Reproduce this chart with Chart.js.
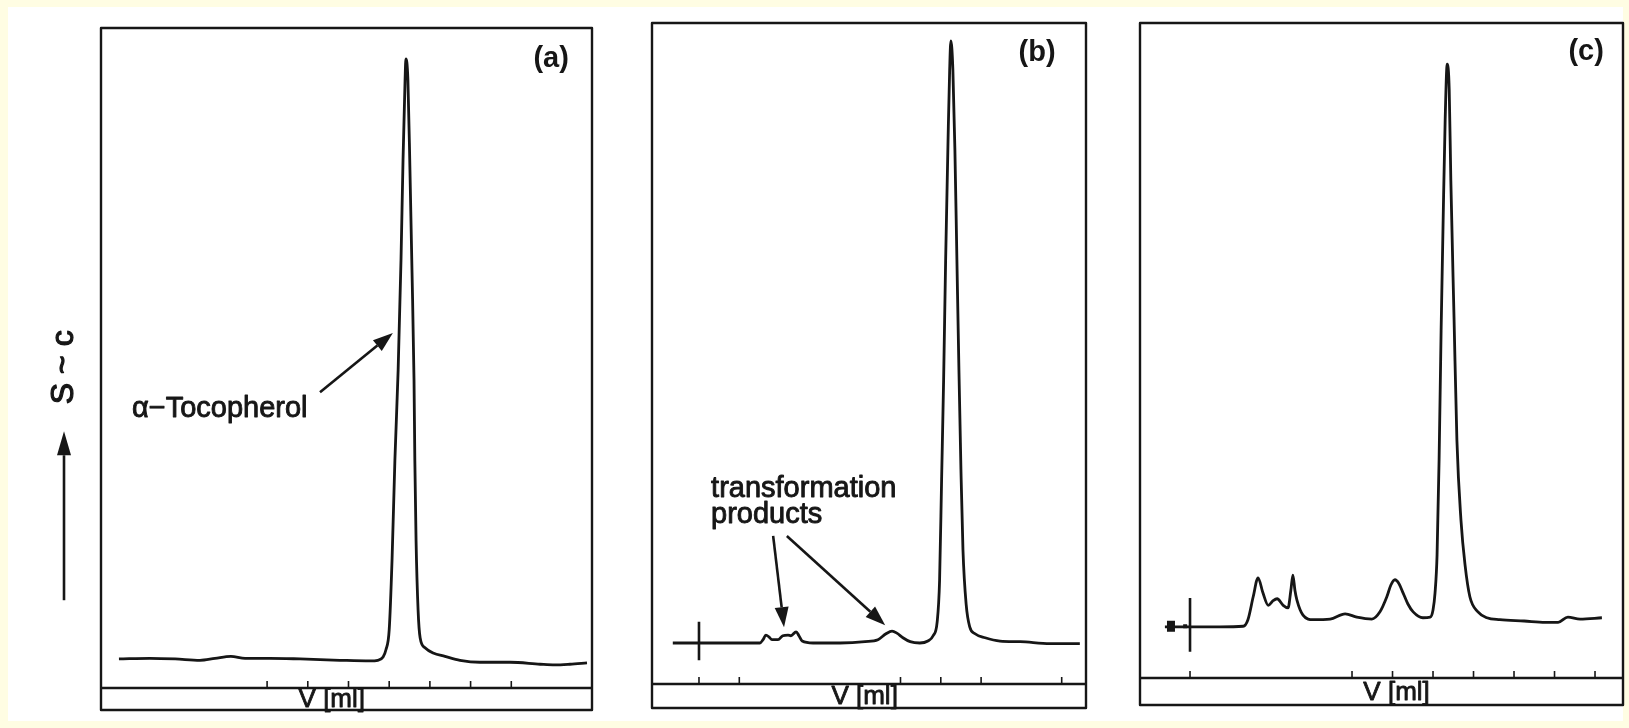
<!DOCTYPE html>
<html>
<head>
<meta charset="utf-8">
<script src="https://cdn.jsdelivr.net/npm/chart.js@4.4.1/dist/chart.umd.min.js"></script>
<style>
  html, body { margin: 0; padding: 0; }
  body { width: 1629px; height: 728px; background: #fffde3; position: relative; overflow: hidden; }
  #paper { position: absolute; left: 8px; top: 7px; right: 6px; bottom: 7px; background: #fff; }
  canvas { position: absolute; top: 0; }
</style>
</head>
<body>
<div id="paper"></div>
<canvas id="chartA" width="620" height="728" style="left:0px"></canvas>
<canvas id="chartB" width="490" height="728" style="left:620px"></canvas>
<canvas id="chartC" width="519" height="728" style="left:1110px"></canvas>
<script>
// Chromatogram (a): pure alpha-tocopherol
const volA = [-0.64, 0.12, 0.74, 1.35, 1.72, 2.11, 2.46, 3.07, 3.81, 4.79,
  5.53, 5.72, 5.85, 5.92, 6.0, 6.07, 6.14, 6.22, 6.29, 6.34,
  6.39, 6.41, 6.46, 6.51, 6.56, 6.61, 6.63, 6.66, 6.71, 6.76,
  6.88, 7.08, 7.37, 7.74, 8.23, 8.97, 9.71, 10.07, 10.44, 10.86];
const sigA = [4.4, 4.5, 4.4, 4.2, 4.5, 4.8, 4.5, 4.5, 4.4, 4.2,
  4.1, 4.2, 4.7, 5.8, 8.8, 19.4, 34.5, 48.2, 64.8, 80.0,
  92.1, 95.3, 92.1, 78.5, 63.3, 46.7, 34.5, 22.4, 11.8, 7.6,
  6.1, 5.3, 4.8, 4.2, 3.9, 3.9, 3.6, 3.5, 3.6, 3.8];
const ticksA = [3, 4, 5, 6, 7, 8, 9];

// Chromatogram (b): small transformation products
const volB = [-0.65, 0, 0.77, 1.51, 1.59, 1.66, 1.74, 1.81, 1.96, 2.08,
  2.21, 2.28, 2.41, 2.48, 2.56, 2.83, 3.50, 4.12, 4.44, 4.64,
  4.79, 4.91, 5.06, 5.24, 5.48, 5.68, 5.81, 5.91, 5.97, 6.02,
  6.07, 6.12, 6.18, 6.22, 6.25, 6.30, 6.35, 6.40, 6.45, 6.50,
  6.55, 6.63, 6.72, 6.85, 7.10, 7.47, 7.97, 8.71, 9.45];
const sigB = [6.2, 6.2, 6.2, 6.2, 6.7, 7.4, 7.1, 6.7, 6.7, 7.3,
  7.4, 7.3, 7.9, 7.3, 6.5, 6.2, 6.2, 6.4, 6.7, 7.6,
  8.0, 7.7, 7.0, 6.4, 6.2, 6.5, 7.3, 9.4, 15.7, 30.9,
  46.0, 64.1, 82.3, 92.9, 97.3, 92.9, 80.8, 64.1, 47.5, 32.4,
  20.3, 12.0, 8.6, 7.6, 7.0, 6.5, 6.4, 6.1, 6.1];
const ticksB = [0, 1, 5, 6, 7, 9];
const injectB = [9.4, 3.6];

// Chromatogram (c): larger product peaks
const volC = [-0.62, 0, 0.74, 1.31, 1.43, 1.56, 1.68, 1.80, 1.93, 2.05,
  2.15, 2.30, 2.42, 2.49, 2.54, 2.59, 2.64, 2.79, 3.04, 3.46,
  3.83, 4.12, 4.49, 4.69, 4.86, 4.96, 5.06, 5.16, 5.26, 5.38,
  5.51, 5.75, 5.93, 6.00, 6.05, 6.10, 6.15, 6.20, 6.25, 6.30,
  6.35, 6.40, 6.44, 6.52, 6.59, 6.69, 6.79, 6.91, 7.11, 7.33,
  7.65, 8.25, 8.77, 9.09, 9.33, 9.63, 10.17];
const sigC = [7.8, 7.8, 7.8, 7.9, 8.9, 12.4, 15.3, 13.0, 11.1, 11.8,
  12.1, 11.1, 10.7, 13.4, 15.7, 13.4, 11.9, 9.6, 8.9, 9.0,
  9.8, 9.3, 9.0, 10.1, 12.4, 14.2, 15.0, 14.4, 13.0, 11.3,
  10.1, 9.2, 9.3, 10.4, 13.0, 18.8, 33.3, 53.1, 69.9, 85.2,
  93.7, 89.8, 76.0, 54.7, 36.3, 24.1, 17.3, 12.4, 10.1, 9.2,
  8.9, 8.7, 8.5, 8.5, 9.3, 9.0, 9.2];
const ticksC = [0, 4, 5, 6, 7, 8, 9, 10];
const injectC = [12.2, 4.0];

const ink = "#161616";
const fontFamily = '"Liberation Sans", Arial, Helvetica, sans-serif';

function toPoints(xs, ys) {
  return xs.map((x, i) => ({ x: x, y: ys[i] }));
}

function drawArrow(ctx, x1, y1, x2, y2, len, half) {
  const ang = Math.atan2(y2 - y1, x2 - x1);
  const bx = x2 - len * Math.cos(ang), by = y2 - len * Math.sin(ang);
  ctx.beginPath();
  ctx.moveTo(x1, y1);
  ctx.lineTo(bx, by);
  ctx.lineWidth = 2.6;
  ctx.stroke();
  ctx.beginPath();
  ctx.moveTo(x2, y2);
  ctx.lineTo(bx + half * Math.sin(ang), by - half * Math.cos(ang));
  ctx.lineTo(bx - half * Math.sin(ang), by + half * Math.cos(ang));
  ctx.closePath();
  ctx.fill();
}

// scanned-looking text: fill plus a thin outline
function heavyText(ctx, s, x, y, w) {
  ctx.lineWidth = w;
  ctx.strokeText(s, x, y);
  ctx.fillText(s, x, y);
}

// frame, axis strip, ticks and labels of one panel
const panelFrame = {
  id: "panelFrame",
  afterDraw(chart, args, opts) {
    const { ctx, chartArea: ca } = chart;
    const xs = chart.scales.x, ys = chart.scales.y;
    const px = v => xs.getPixelForValue(v);
    const py = v => ys.getPixelForValue(v);
    ctx.save();
    ctx.strokeStyle = ink;
    ctx.fillStyle = ink;
    ctx.lineJoin = "round";

    // outer box and axis line
    ctx.lineWidth = 2.4;
    ctx.strokeRect(ca.left, ca.top, ca.right - ca.left, ca.bottom + opts.strip - ca.top);
    ctx.beginPath();
    ctx.moveTo(ca.left, ca.bottom);
    ctx.lineTo(ca.right, ca.bottom);
    ctx.stroke();

    // tick marks pointing up
    ctx.lineWidth = 1.6;
    opts.ticks.forEach(v => {
      ctx.beginPath();
      ctx.moveTo(px(v), ca.bottom - 7);
      ctx.lineTo(px(v), ca.bottom);
      ctx.stroke();
    });

    // axis title in the strip
    ctx.font = "26px " + fontFamily;
    ctx.textAlign = "center";
    ctx.textBaseline = "middle";
    heavyText(ctx, "V [ml]", px(opts.vml), ca.bottom + opts.strip / 2 + 1, 0.8);

    // panel letter
    ctx.font = "bold 29px " + fontFamily;
    ctx.fillText(opts.letter[0], px(opts.letter[1]), py(opts.letter[2]));

    // free texts
    ctx.font = "29px " + fontFamily;
    ctx.textAlign = "left";
    ctx.textBaseline = "alphabetic";
    (opts.texts || []).forEach(t => heavyText(ctx, t[0], px(t[1]), py(t[2]), 0.9));

    // arrows
    (opts.arrows || []).forEach(a => drawArrow(ctx, px(a[0]), py(a[1]), px(a[2]), py(a[3]), 20, 7));

    // small blot marks before the injection line
    (opts.blots || []).forEach(b => {
      ctx.fillRect(px(b[0]) - b[2] / 2, py(b[1]) - b[3] / 2, b[2], b[3]);
    });

    // y axis label: rotated text with arrow below it
    if (opts.yLabel) {
      const yl = opts.yLabel;
      ctx.save();
      ctx.translate(px(yl.at[0]), py(yl.at[1]));
      ctx.rotate(-Math.PI / 2);
      ctx.font = "32px " + fontFamily;
      ctx.textAlign = "center";
      ctx.textBaseline = "middle";
      heavyText(ctx, yl.text, 0, 0, 1.2);
      ctx.restore();
      drawArrow(ctx, px(yl.arrow[0]), py(yl.arrow[1]), px(yl.arrow[0]), py(yl.arrow[2]), 24, 7);
    }
    ctx.restore();
  }
};

function makePanel(id, datasets, xMin, xMax, pad, frameOpts) {
  return new Chart(document.getElementById(id), {
    type: "line",
    data: { datasets: datasets },
    options: {
      responsive: false,
      animation: false,
      layout: { padding: pad },
      elements: { point: { radius: 0 } },
      scales: {
        x: { type: "linear", min: xMin, max: xMax, display: false },
        y: { type: "linear", min: 0, max: 100, display: false }
      },
      plugins: {
        legend: { display: false },
        tooltip: { enabled: false },
        panelFrame: frameOpts
      }
    },
    plugins: [panelFrame]
  });
}

function trace(xs, ys) {
  return {
    data: toPoints(xs, ys),
    borderColor: ink,
    borderWidth: 2.8,
    cubicInterpolationMode: "monotone",
    fill: false
  };
}

function injectLine(ys) {
  return {
    data: [{ x: 0, y: ys[0] }, { x: 0, y: ys[1] }],
    borderColor: ink,
    borderWidth: 2.6,
    tension: 0
  };
}

makePanel("chartA", [trace(volA, sigA)], -1.081, 10.983,
  { left: 101, right: 28, top: 28, bottom: 40 },
  {
    strip: 22,
    ticks: ticksA,
    vml: 4.59,
    letter: ["(a)", 9.98, 95.3],
    texts: [["\u03b1\u2212Tocopherol", -0.32, 41.1]],
    arrows: [[4.30, 44.8, 6.09, 53.8]],
    yLabel: { text: "S ~ c", at: [-1.99, 48.6], arrow: [-1.99, 13.3, 38.9] }
  });

makePanel("chartB", [trace(volB, sigB), injectLine(injectB)], -1.166, 9.603,
  { left: 32, right: 24, top: 23, bottom: 44 },
  {
    strip: 24,
    ticks: ticksB,
    vml: 4.11,
    letter: ["(b)", 8.39, 95.5],
    texts: [["transformation", 0.30, 28.3], ["products", 0.30, 24.4]],
    arrows: [[1.84, 22.4, 2.11, 8.6], [2.18, 22.4, 4.62, 8.9]]
  });

makePanel("chartC", [trace(volC, sigC), injectLine(injectC)], -1.235, 10.691,
  { left: 30, right: 6, top: 23, bottom: 50 },
  {
    strip: 27,
    ticks: ticksC,
    vml: 5.10,
    letter: ["(c)", 9.78, 95.6],
    blots: [[-0.47, 7.9, 8, 11], [-0.12, 7.9, 4, 4]]
  });
</script>
</body>
</html>
